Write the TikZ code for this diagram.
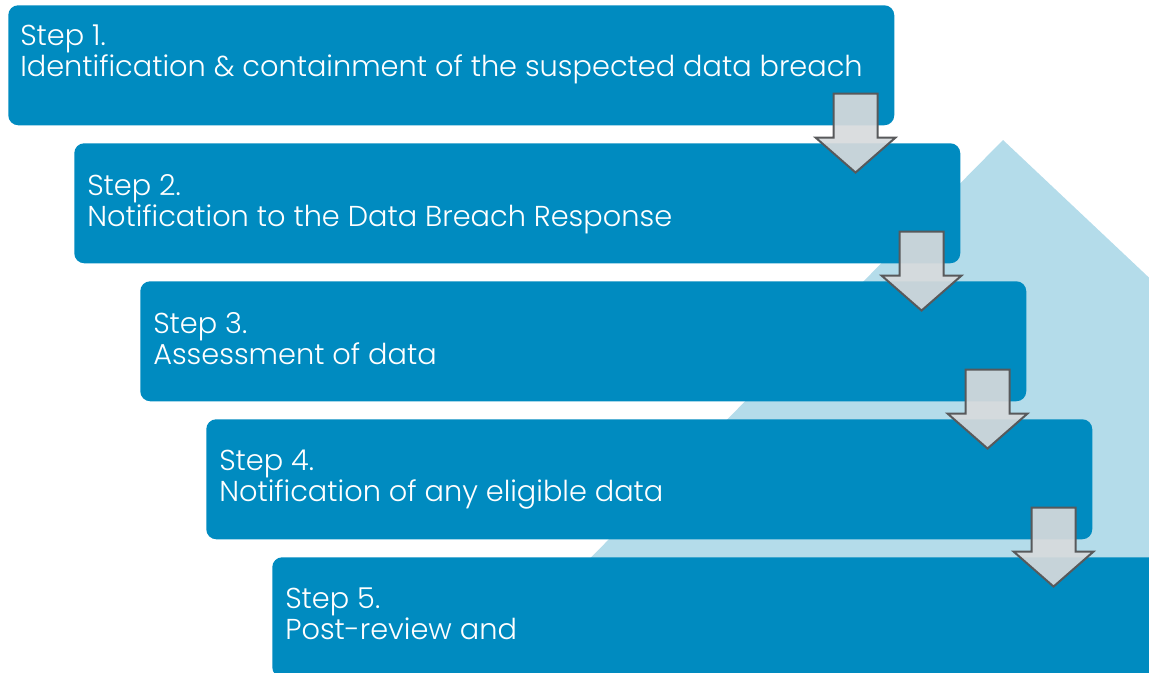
\documentclass[tikz,border=0pt]{standalone}
\usepackage{fontspec}
\setmainfont{Poppins}[UprightFont=* Light]
\usetikzlibrary{calc}
\definecolor{boxblue}{RGB}{0,139,192}
\definecolor{lightblue}{RGB}{180,220,234}
\definecolor{arrowfill}{RGB}{215,218,220}
\definecolor{arrowline}{RGB}{88,89,91}
\tikzset{
  stepbox/.style={fill=boxblue, draw=none, rounded corners=7.5pt, anchor=north west,
    minimum width=664.5pt, minimum height=90pt, inner sep=0pt},
  lbl/.style={text=white, anchor=north west, inner sep=0pt, align=left,
    font=\fontsize{21.6pt}{23.25pt}\selectfont},
  downarrow/.pic={
    \draw[fill=arrowfill, fill opacity=0.92, draw=arrowline, line width=1.5pt, line join=miter]
      (-22,0) -- (22,0) -- (22,44) -- (40,44) -- (0,79) -- (-40,44) -- (-22,44) -- cycle;
  }
}
\begin{document}
\begin{tikzpicture}[x=0.75pt, y=-0.75pt]
\useasboundingbox (0,0) rectangle (1149,672);
\clip (0,0) rectangle (1149,672);
\fill[lightblue] (1003,140) -- (1160,288) -- (1160,680) -- (470,680) -- cycle;
\node[stepbox] (b1) at (8,5) {};
\node[stepbox] (b2) at (74,143) {};
\node[stepbox] (b3) at (140,281) {};
\node[stepbox] (b4) at (206,419) {};
\node[stepbox, minimum width=720pt] (b5) at (272,557) {};
\node[lbl, font=\fontsize{21.6pt}{20.7pt}\selectfont] (t1) at ($(b1.north west)+(12,20)$) {Step 1.\\Identification \& containment of the suspected data breach};
\node[lbl] (t2) at ($(b2.north west)+(13,31)$) {Step 2.\\Notification to the Data Breach Response};
\node[lbl] (t3) at ($(b3.north west)+(13,31)$) {Step 3.\\Assessment of data};
\node[lbl] (t4) at ($(b4.north west)+(13,31)$) {Step 4.\\Notification of any eligible data};
\node[lbl] (t5) at ($(b5.north west)+(13,31)$) {Step 5.\\Post-review and};
\path ($(b1.south east)+(-39,-32)$) pic {downarrow};
\path ($(b2.south east)+(-39,-32)$) pic {downarrow};
\path ($(b3.south east)+(-39,-32)$) pic {downarrow};
\path ($(b4.south east)+(-39,-32)$) pic {downarrow};
\end{tikzpicture}
\end{document}
